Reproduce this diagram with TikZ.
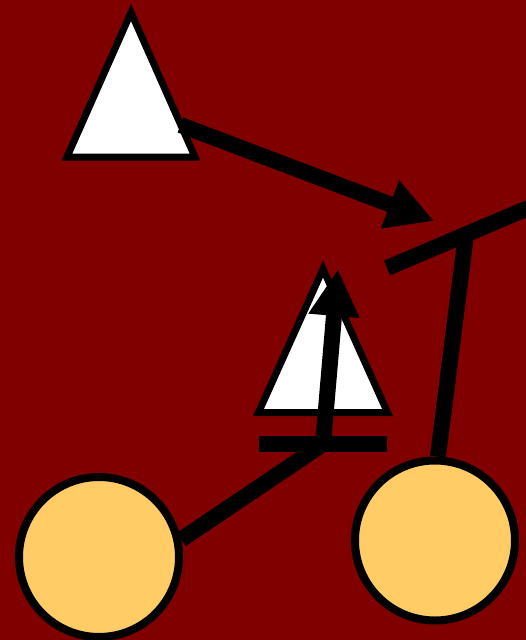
\documentclass[tikz,border=0pt]{standalone}
\usetikzlibrary{arrows.meta}
\definecolor{bgred}{HTML}{800000}
\definecolor{discfill}{HTML}{FFCC66}
\pgfdeclarelayer{back}
\pgfdeclarelayer{lines}
\pgfsetlayers{back,lines,main}
\begin{document}
\begin{tikzpicture}[x=1pt,y=-1pt,
  tri/.style={draw=black,fill=white,line width=7pt,line join=miter},
  disc/.style={circle,draw=black,fill=discfill,line width=8pt,minimum size=160pt,inner sep=0pt},
  thick bar/.style={draw=black,line width=16pt},
  arr/.style={draw=black,line width=16pt,-{Triangle[length=47pt,width=48pt]}}]
\useasboundingbox (0,0) rectangle (526,640);
\begin{pgfonlayer}{back}
\fill[bgred] (0,0) rectangle (526,640);
\end{pgfonlayer}
\clip (0,0) rectangle (526,640);
% triangles
\coordinate (t1a) at (131,12.5);
\coordinate (t1l) at (67,157);
\coordinate (t1r) at (195,157);
\coordinate (t2a) at (323,269);
\coordinate (t2l) at (258.5,412.5);
\coordinate (t2r) at (387.5,412.5);
\draw[tri] (t1a) -- (t1r) -- (t1l) -- cycle;
\draw[tri] (t2a) -- (t2r) -- (t2l) -- cycle;
% discs
\node[disc] (c1) at (99,557) {};
\node[disc] (c2) at (435,540.5) {};
% connector points
\coordinate (a1s) at (180.5,125);
\coordinate (p1) at (434,221);
\coordinate (l3a) at (387,268);
\coordinate (l3b) at (540,203);
\coordinate (tj) at (466,234.5);
\coordinate (b1) at (259,444);
\coordinate (b2) at (387,444);
\coordinate (J) at (323,444);
\coordinate (p2) at (338,269);
\begin{pgfonlayer}{lines}
\draw[thick bar] (l3a) -- (l3b);
\draw[thick bar] (tj) -- (c2.88);
\draw[thick bar] (J) -- (c1.12);
\end{pgfonlayer}
\draw[arr] (a1s) -- (p1);
\draw[thick bar] (b1) -- (b2);
\draw[arr] (J) -- (p2);
\end{tikzpicture}
\end{document}
